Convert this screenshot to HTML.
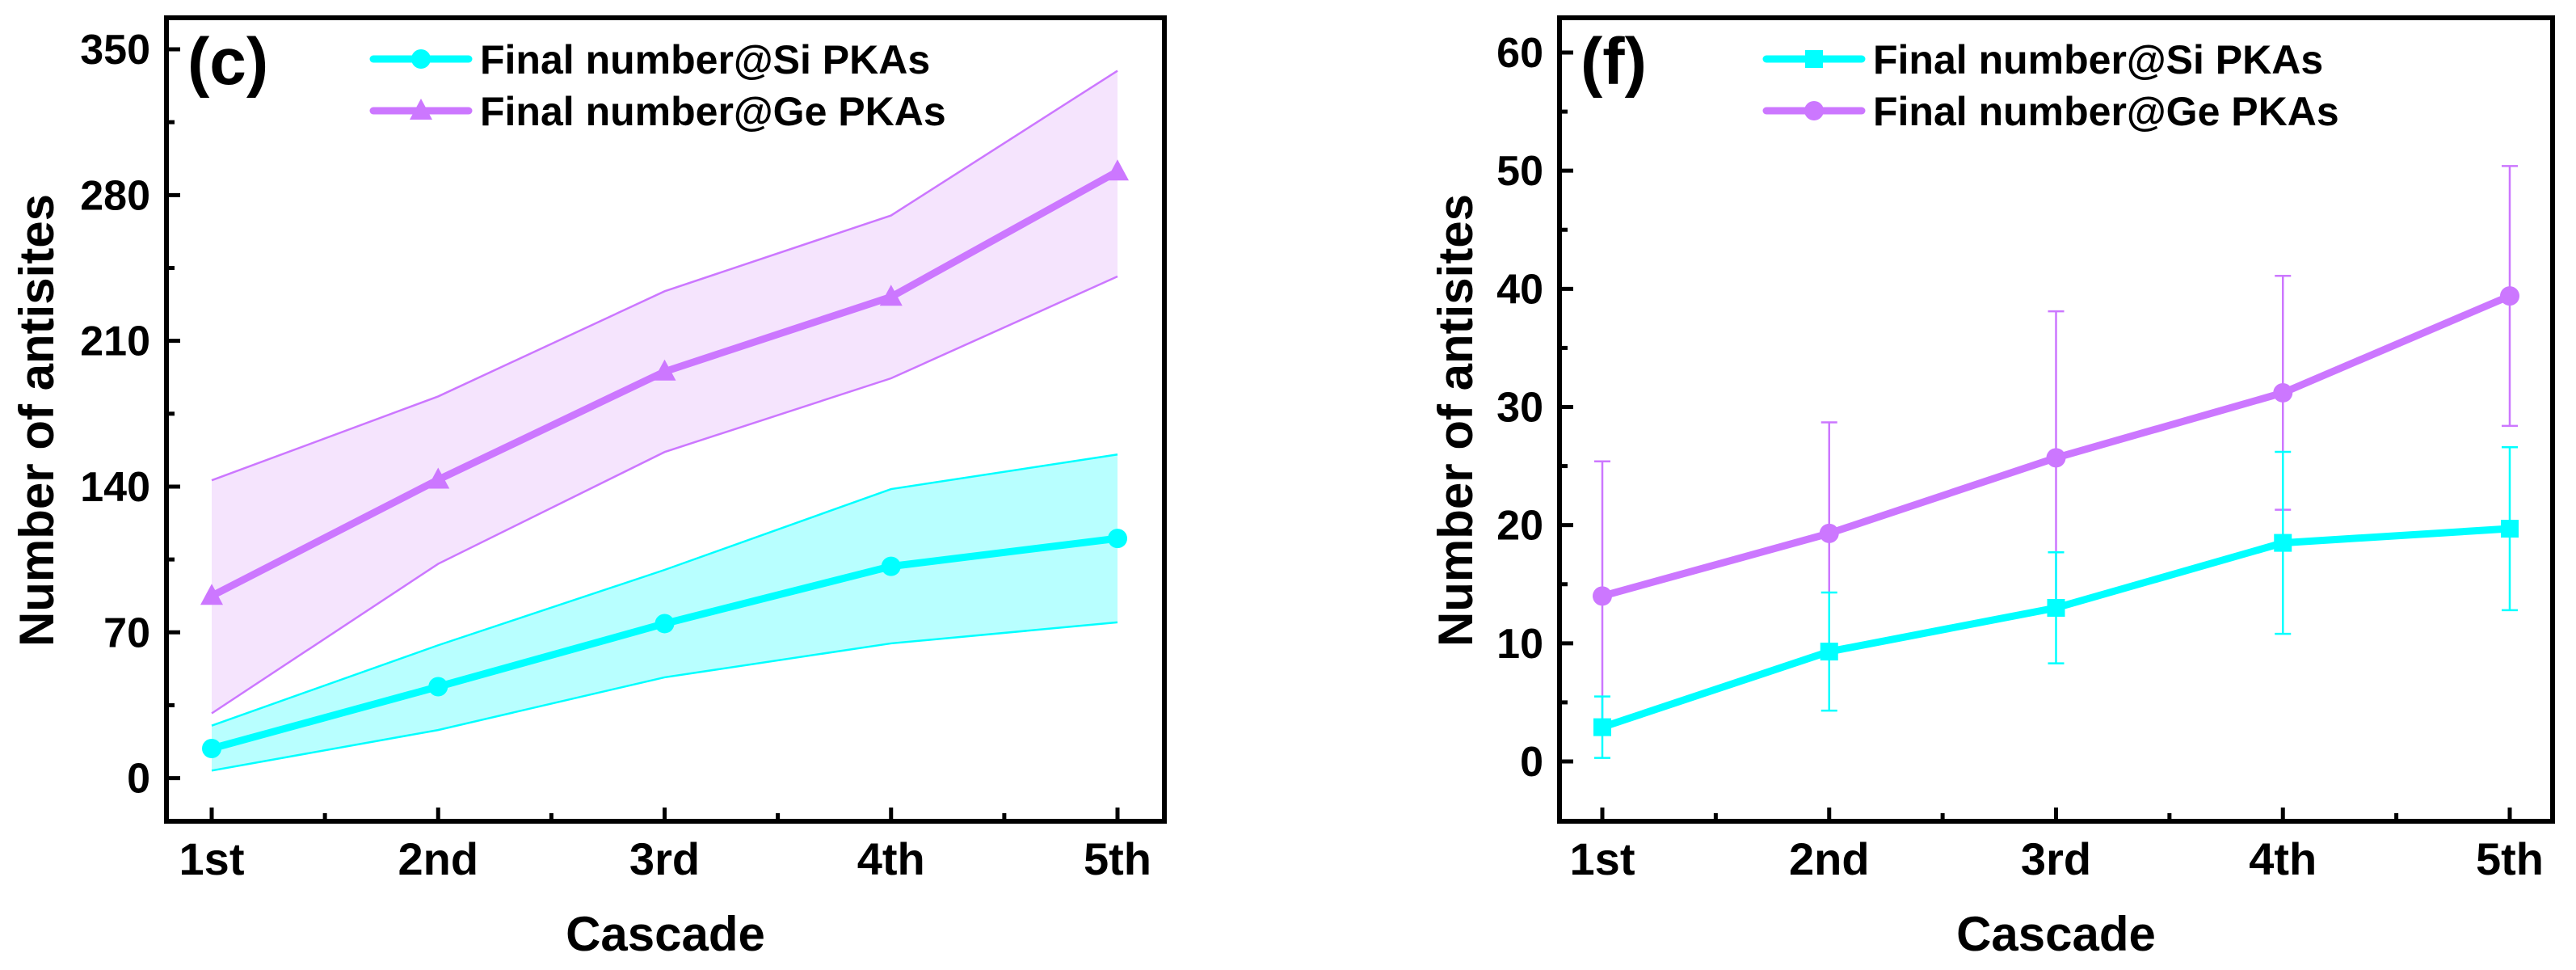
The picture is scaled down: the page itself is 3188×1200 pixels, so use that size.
<!DOCTYPE html>
<html><head><meta charset="utf-8"><style>
html,body{margin:0;padding:0;background:#fff;}
svg{display:block;font-family:"Liberation Sans",Arial,sans-serif;font-weight:bold;}
</style></head><body>
<svg id="chart" width="3188" height="1200" viewBox="0 0 3188 1200" xmlns="http://www.w3.org/2000/svg"></svg>
<script>
// ---- shared data ----
const categories = ["1st","2nd","3rd","4th","5th"];
// Panel (c)
const cTicks = [0,70,140,210,280,350];
const cSiMean = [14.2,43.9,74.2,101.7,115.1];
const cSiUpper = [25.2,63.8,100,138.8,155.4];
const cSiLower = [3.6,23.1,48.4,64.7,74.8];
const cGeMean = [87.5,143.3,195.2,231.1,291.3];
const cGeUpper = [143,183.3,233.8,270.2,339.7];
const cGeLower = [31.1,102.9,156.6,192,240.9];
// Panel (f)
const fTicks = [0,10,20,30,40,50,60];
const fSiMean = [2.9,9.3,13.0,18.5,19.7];
const fSiErr = [2.6,5.0,4.7,7.7,6.9];
const fGeMean = [14.0,19.3,25.7,31.2,39.4];
const fGeErr = [11.4,9.4,12.4,9.9,11.0];

const CYAN="#00ffff", PURP="#cc77ff";
const NS="http://www.w3.org/2000/svg";
const svg=document.getElementById('chart');
function mk(tag,attrs,parent){const e=document.createElementNS(NS,tag);for(const k in attrs)e.setAttribute(k,attrs[k]);(parent||svg).appendChild(e);return e;}

function panel(cfg){
  const g=mk('g',{});
  
  
  const X=i=>cfg.x0+(cfg.x1-cfg.x0)*i/(categories.length-1);
  const Y=v=>cfg.yb+(cfg.yt-cfg.yb)*(v-cfg.vmin)/(cfg.vmax-cfg.vmin);
  cfg.draw(g,X,Y);
  const fr=mk('rect',{x:cfg.L,y:cfg.T,width:cfg.R-cfg.L,height:cfg.B-cfg.T,fill:'none',stroke:'#000','stroke-width':6},g);
  
  
  categories.forEach((c,i)=>{
    const t=mk('line',{x1:X(i),x2:X(i),y1:cfg.B,y2:cfg.B-17,stroke:'#000','stroke-width':5},g);
    
    
    if(i<categories.length-1){
      const xm=(X(i)+X(i+1))/2;
      const m=mk('line',{x1:xm,x2:xm,y1:cfg.B,y2:cfg.B-10,stroke:'#000','stroke-width':5},g);
      
      
    }
    const tl=mk('text',{x:X(i),y:1082,'font-size':56,'text-anchor':'middle'},g);
    tl.textContent=c;
    
    
  });
  cfg.ticks.forEach((v,i)=>{
    const t=mk('line',{x1:cfg.L,x2:cfg.L+17,y1:Y(v),y2:Y(v),stroke:'#000','stroke-width':5},g);
    
    
    const tl=mk('text',{x:cfg.L-20,y:Y(v)+18,'font-size':52,'text-anchor':'end'},g);
    tl.textContent=v;
    
    
  });
  const step=cfg.ticks[1]-cfg.ticks[0];
  for(let v=cfg.ticks[0]-step/2; v<=cfg.vmax; v+=step){
    const y=Y(v); if(y<cfg.T+5||y>cfg.B-5) continue;
    const m=mk('line',{x1:cfg.L,x2:cfg.L+10,y1:y,y2:y,stroke:'#000','stroke-width':5},g);
    
    
  }
  const xt=mk('text',{x:(cfg.L+cfg.R)/2,y:1176,'font-size':60,'text-anchor':'middle'},g);
  xt.textContent='Cascade';
  
  
  const yt=mk('text',{x:0,y:0,'font-size':60,'text-anchor':'middle',transform:`translate(${cfg.ytx},520) rotate(-90)`},g);
  yt.textContent='Number of antisites';
  
  
  const pl=mk('text',{x:cfg.L+26,y:104,'font-size':82},g);
  pl.textContent=cfg.label;
  
  
  cfg.legend.forEach((it,k)=>{
    const ly=73+64*k;
    const lg=mk('g',{},g);
    
    
    mk('line',{x1:cfg.L+256,x2:cfg.L+374,y1:ly,y2:ly,stroke:it.color,'stroke-width':9,'stroke-linecap':'round'},lg);
    marker(lg,cfg.L+315,ly,it.shape,it.color);
    const tx=mk('text',{x:cfg.L+388,y:ly+18,'font-size':50},lg);
    tx.textContent=it.text;
  });
}
function marker(p,x,y,shape,color){
  let m;
  if(shape==='circle') m=mk('circle',{cx:x,cy:y,r:12,fill:color},p);
  else if(shape==='square') m=mk('rect',{x:x-11,y:y-11,width:22,height:22,fill:color},p);
  else m=mk('polygon',{points:`${x},${y-15} ${x+14},${y+11} ${x-14},${y+11}`,fill:color},p);
  
  
  return m;
}
function series(g,X,Y,vals,color,shape,name){
  const pts=vals.map((v,i)=>X(i)+','+Y(v)).join(' ');
  const l=mk('polyline',{points:pts,fill:'none',stroke:color,'stroke-width':9,'stroke-linejoin':'round'},g);
  
  
  vals.forEach((v,i)=>marker(g,X(i),Y(v),shape,color));
}
function band(g,X,Y,up,lo,fill,stroke,name){
  const pts=up.map((v,i)=>X(i)+','+Y(v)).concat(lo.map((v,i)=>X(i)+','+Y(v)).reverse()).join(' ');
  const b=mk('polygon',{points:pts,fill:fill,stroke:'none'},g);
  
  
  [up,lo].forEach(a=>{
    const e=mk('polyline',{points:a.map((v,i)=>X(i)+','+Y(v)).join(' '),fill:'none',stroke:stroke,'stroke-width':2.5},g);
    
    
  });
}
function errbars(g,X,Y,mean,err,color,name){
  mean.forEach((v,i)=>{
    const x=X(i),y1=Y(v+err[i]),y2=Y(v-err[i]);
    const e=mk('path',{d:`M${x},${y1}V${y2}M${x-10},${y1}H${x+10}M${x-10},${y2}H${x+10}`,stroke:color,'stroke-width':2.5,fill:'none'},g);
    
    
  });
}

panel({name:'panel-c',L:206,R:1441,T:22,B:1016,x0:262,x1:1383,yb:962.6,yt:61,vmin:0,vmax:350,ticks:cTicks,ytx:66,label:'(c)',
  legend:[{text:'Final number@Si PKAs',color:CYAN,shape:'circle'},{text:'Final number@Ge PKAs',color:PURP,shape:'triangle'}],
  draw:(g,X,Y)=>{
    band(g,X,Y,cGeUpper,cGeLower,'#f5e4fd',PURP,'ge-band');
    band(g,X,Y,cSiUpper,cSiLower,'#b8ffff',CYAN,'si-band');
    series(g,X,Y,cGeMean,PURP,'triangle','ge-line');
    series(g,X,Y,cSiMean,CYAN,'circle','si-line');
  }});
panel({name:'panel-f',L:1930,R:3159,T:22,B:1016,x0:1983,x1:3106,yb:942,yt:65,vmin:0,vmax:60,ticks:fTicks,ytx:1822,label:'(f)',
  legend:[{text:'Final number@Si PKAs',color:CYAN,shape:'square'},{text:'Final number@Ge PKAs',color:PURP,shape:'circle'}],
  draw:(g,X,Y)=>{
    errbars(g,X,Y,fGeMean,fGeErr,PURP,'ge-error-bar');
    errbars(g,X,Y,fSiMean,fSiErr,CYAN,'si-error-bar');
    series(g,X,Y,fGeMean,PURP,'circle','ge-line');
    series(g,X,Y,fSiMean,CYAN,'square','si-line');
  }});
</script>
</body></html>
